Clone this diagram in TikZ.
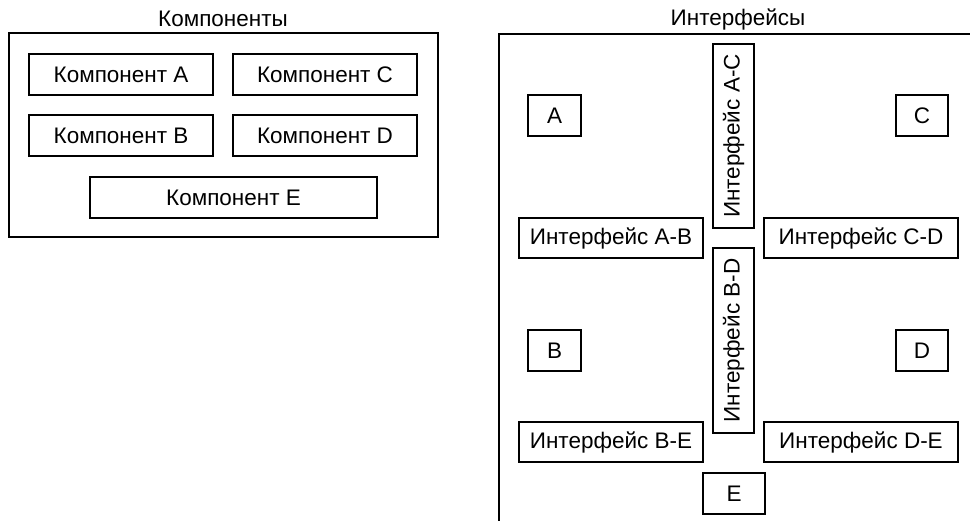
\documentclass[tikz,border=0pt]{standalone}
\usepackage{fontspec}
\setmainfont{Liberation Sans}
\begin{document}
\begin{tikzpicture}[x=1pt,y=-1pt,
  box/.style={draw,line width=1.6pt,inner sep=0pt,font=\fontsize{22.5}{26}\selectfont},
  frame/.style={draw,line width=1.6pt,inner sep=0pt},
  ttl/.style={font=\fontsize{22.5}{26}\selectfont,inner sep=0pt}]
\useasboundingbox (0,0) rectangle (970,521);
\clip (0,0) rectangle (970,521);
% left panel
\node[ttl] (t1) at (223,19) {Компоненты};
\node[frame,minimum width=429pt,minimum height=204pt] (left) at (223.5,135) {};
\node[box,minimum width=184pt,minimum height=41pt] (ka) at (121,74.5) {Компонент A};
\node[box,minimum width=184pt,minimum height=41pt] (kc) at (325,74.5) {Компонент C};
\node[box,minimum width=184pt,minimum height=41pt] (kb) at (121,135.5) {Компонент B};
\node[box,minimum width=184pt,minimum height=41pt] (kd) at (325,135.5) {Компонент D};
\node[box,minimum width=287pt,minimum height=41pt] (ke) at (233.5,197.5) {Компонент E};
% right panel
\node[ttl] (t2) at (738,19) {Интерфейсы};
\node[frame,minimum width=500pt,minimum height=520pt,anchor=north west] (right) at (498,33) {};
\node[box,minimum width=53pt,minimum height=41pt] (a) at (554.5,115.5) {A};
\node[box,minimum width=52pt,minimum height=41pt] (c) at (922,115.5) {C};
\node[box,minimum width=53pt,minimum height=41pt] (b) at (554.5,350.5) {B};
\node[box,minimum width=52pt,minimum height=41pt] (d) at (922,350.5) {D};
\node[box,minimum width=62pt,minimum height=41pt] (e) at (734,493.5) {E};
\node[box,rotate=90,minimum width=184pt,minimum height=41pt] (iac) at (733.5,136) {Интерфейс A-C};
\node[box,rotate=90,minimum width=185pt,minimum height=41pt] (ibd) at (733.5,340.5) {Интерфейс B-D};
\node[box,minimum width=184pt,minimum height=40pt] (iab) at (611,238) {Интерфейс A-B};
\node[box,minimum width=194pt,minimum height=40pt] (icd) at (861,238) {Интерфейс C-D};
\node[box,minimum width=184pt,minimum height=40pt] (ibe) at (611,442) {Интерфейс B-E};
\node[box,minimum width=194pt,minimum height=40pt] (ide) at (861,442) {Интерфейс D-E};
\end{tikzpicture}
\end{document}
